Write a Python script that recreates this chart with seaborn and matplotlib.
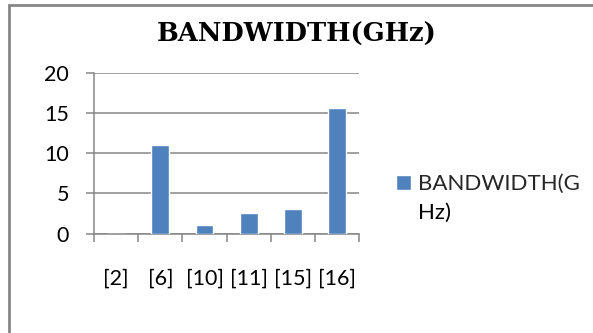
import matplotlib
matplotlib.use("Agg")
import matplotlib.pyplot as plt
from matplotlib.patches import Rectangle
from matplotlib.ticker import MultipleLocator, FixedLocator
import seaborn as sns
import pandas as pd

# Bandwidth per reference
references = ["[2]", "[6]", "[10]", "[11]", "[15]", "[16]"]
bandwidth_ghz = [0, 11, 1, 2.5, 3, 15.6]
series_name = "BANDWIDTH(GHz)"
legend_lines = ["BANDWIDTH(G", "Hz)"]

bar_color = "#4F81BD"
line_gray = "#868686"
label_font = ["Lato", "DejaVu Sans"]
title_font = ["DejaVu Serif"]
label_size = 15.5

sns.set_theme(style="white")
plt.rcParams["font.family"] = label_font

df = pd.DataFrame({"ref": references, "bw": bandwidth_ghz})

W, H = 593, 333
fig = plt.figure(figsize=(W / 100, H / 100), dpi=100)
ax = fig.add_axes([94 / W, 1 - 233.5 / H, (359.3 - 94) / W, (233.5 - 72.7) / H])

sns.barplot(data=df, x="ref", y="bw", color=bar_color, width=0.4,
            saturation=1, ax=ax, label=legend_lines[0], zorder=3)

ax.set_xlim(-0.5, len(references) - 0.5)
ax.set_ylim(0, 20)
ax.yaxis.set_major_locator(MultipleLocator(5))
ax.grid(axis="y", color=line_gray, linewidth=1.1, zorder=0)
ax.grid(axis="x", visible=False)
ax.set_xlabel("")
ax.set_ylabel("")

for side in ("top", "right"):
    ax.spines[side].set_visible(False)
for side in ("left", "bottom"):
    ax.spines[side].set_color(line_gray)
    ax.spines[side].set_linewidth(1.1)

# category boundary ticks on the x axis
ax.xaxis.set_minor_locator(FixedLocator([i - 0.5 for i in range(len(references) + 1)]))
ax.tick_params(axis="x", which="major", length=0, pad=25, labelsize=label_size,
               labelcolor="black")
ax.tick_params(axis="x", which="minor", bottom=True, length=6, width=1.1,
               color=line_gray, direction="out")
ax.tick_params(axis="y", which="major", left=True, length=6, width=1.1,
               color=line_gray, direction="out", pad=12, labelsize=label_size,
               labelcolor="black")

fig.text(297 / W, 1 - 42 / H, series_name, ha="center", va="baseline",
         fontsize=18.5, fontweight="bold", family=title_font, color="black")

leg = ax.legend(loc="center left", bbox_to_anchor=(396 / W, 1 - 184 / H),
                bbox_transform=fig.transFigure, frameon=False, fontsize=16,
                handlelength=0.66, handleheight=0.66, handletextpad=0.35,
                borderpad=0, borderaxespad=0)

# wrapped continuation of the legend label, aligned under its first line
fig.canvas.draw()
first = leg.get_texts()[0]
ext = first.get_window_extent()
fig.text(ext.x0 / W, (ext.y0 - 29) / H, legend_lines[1], ha="left", va="bottom",
         fontsize=16, color="black")

# outer chart frame
fig.add_artist(Rectangle((8.5 / W, -0.2), 1.2, 1.2 - 4.5 / H,
                         transform=fig.transFigure, fill=False,
                         edgecolor=line_gray, linewidth=2))

fig.savefig("out.png", dpi=100)
